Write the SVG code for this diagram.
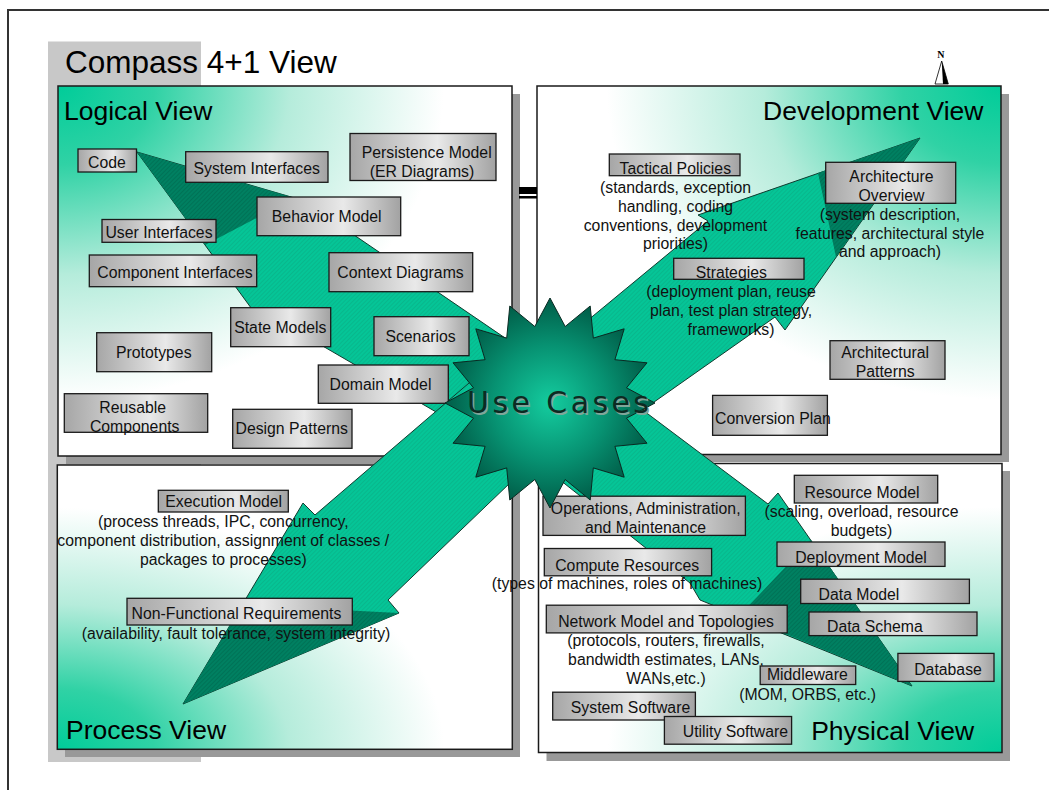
<svg xmlns="http://www.w3.org/2000/svg" width="1049" height="790" viewBox="0 0 1049 790">
<defs>
<style>
.t{font-family:"Liberation Sans",Arial,sans-serif;font-size:15.8px;fill:#111}
.c{text-anchor:middle}
.h{font-size:26.5px;fill:#000}
.box{fill:url(#boxg);stroke:#1a1a1a;stroke-width:1.3}
.quad{stroke:#1a1a1a;stroke-width:1.5}
.shadow{fill:#999}
.arrow{fill:url(#hatchL);stroke:#103a2e;stroke-width:1}
.dark{fill:url(#hatchD)}
</style>
<linearGradient id="boxg" x1="0" y1="0" x2="1" y2="0">
<stop offset="0" stop-color="#a6a6a6"/>
<stop offset="0.6" stop-color="#e9e9e9"/>
<stop offset="1" stop-color="#a2a2a2"/>
</linearGradient>
<radialGradient id="gLog" cx="0" cy="0" r="0.85" fx="0" fy="0">
<stop offset="0" stop-color="#00cc99"/>
<stop offset="0.25" stop-color="#30d2a5"/>
<stop offset="0.6" stop-color="#b5ecdb"/>
<stop offset="1" stop-color="#ffffff"/>
</radialGradient>
<radialGradient id="gDev" cx="1" cy="0" r="0.85" fx="1" fy="0">
<stop offset="0" stop-color="#00cc99"/>
<stop offset="0.25" stop-color="#30d2a5"/>
<stop offset="0.6" stop-color="#b5ecdb"/>
<stop offset="1" stop-color="#ffffff"/>
</radialGradient>
<radialGradient id="gPro" cx="0" cy="1" r="0.85" fx="0" fy="1">
<stop offset="0" stop-color="#00cc99"/>
<stop offset="0.25" stop-color="#30d2a5"/>
<stop offset="0.6" stop-color="#b5ecdb"/>
<stop offset="1" stop-color="#ffffff"/>
</radialGradient>
<radialGradient id="gPhy" cx="1" cy="1" r="0.85" fx="1" fy="1">
<stop offset="0" stop-color="#00cc99"/>
<stop offset="0.25" stop-color="#30d2a5"/>
<stop offset="0.6" stop-color="#b5ecdb"/>
<stop offset="1" stop-color="#ffffff"/>
</radialGradient>
<radialGradient id="gStar" cx="550" cy="403" r="105" gradientUnits="userSpaceOnUse">
<stop offset="0" stop-color="#14cc9f"/>
<stop offset="0.55" stop-color="#079272"/>
<stop offset="1" stop-color="#005c47"/>
</radialGradient>
<pattern id="hatchL" width="3" height="3" patternUnits="userSpaceOnUse" patternTransform="rotate(45)">
<rect width="3" height="3" fill="#05c597"/>
<rect width="1" height="3" fill="#0aae86" opacity="0.6"/>
</pattern>
<pattern id="hatchD" width="3" height="3" patternUnits="userSpaceOnUse" patternTransform="rotate(45)">
<rect width="3" height="3" fill="#008061"/>
<rect width="1" height="3" fill="#006c52" opacity="0.7"/>
</pattern>
</defs>

<rect x="0" y="0" width="1049" height="790" fill="#ffffff"/>
<path d="M1049,10 H8 V790" fill="none" stroke="#333" stroke-width="2"/>
<rect x="48" y="41.5" width="153" height="720.5" fill="#c8c8c8"/>

<g id="compass">
<text x="940.8" y="57.5" font-family="Liberation Serif,serif" font-weight="bold" font-size="10" text-anchor="middle" fill="#000">N</text>
<polygon points="941.7,61 935,84 948.3,84" fill="#fff" stroke="#000" stroke-width="0.8"/>
<polygon points="941.7,61 943,84 948.3,84" fill="#000"/>
</g>

<g id="logical-view">
<rect class="shadow" x="66" y="94" width="454" height="370"/>
<rect class="quad" x="58" y="86" width="454" height="370" fill="url(#gLog)"/>
<text class="t h" x="64" y="120">Logical View</text>
</g>
<g id="development-view">
<rect class="shadow" x="545" y="94" width="464" height="368"/>
<rect class="quad" x="537" y="86" width="464" height="368.5" fill="url(#gDev)"/>
<text class="t h" x="983.5" y="120" text-anchor="end">Development View</text>
</g>
<g id="process-view">
<rect class="shadow" x="65" y="473" width="455" height="284"/>
<rect class="quad" x="57.3" y="465" width="455" height="284.3" fill="url(#gPro)"/>
<text class="t h" x="66" y="739.3">Process View</text>
</g>
<g id="physical-view">
<rect class="shadow" x="546.5" y="471" width="463.5" height="290"/>
<rect class="quad" x="538.5" y="463.5" width="463.5" height="289" fill="url(#gPhy)"/>
<text class="t h" x="811.2" y="740">Physical View</text>
</g>

<g id="equals">
<rect x="519" y="187" width="18" height="7" fill="#000"/>
<rect x="519" y="196" width="18" height="2.5" fill="#000"/>
</g>

<g id="title">
<text class="t" x="65" y="72.6" style="font-size:31.5px;fill:#000">Compass 4+1 View</text>
</g>

<g id="connectors">
<polygon class="arrow" points="137,152 322,206 335,222 530,355 510,455 290,327 265,327"/>
<polygon class="dark" points="137,152 295,198 205,245"/>
<polygon class="arrow" points="920,138 698,215 708,221 570,335 610,433 775,317 785,330"/>
<polygon class="dark" points="920,138 818,173 836,257"/>
<polygon class="arrow" points="183,704 303,503 315,515 490,365 560,435 388,600 399,613"/>
<polygon class="dark" points="183,704 242,605 399,613"/>
<polygon class="arrow" points="912,686 778,493 768,504 600,378 560,480 690,583 700,600"/>
<polygon class="dark" points="912,686 811,540 740,615"/>
</g>

<g id="code"><rect class="box" x="78" y="149" width="58.5" height="23"/><text class="t c" x="107" y="167.5">Code</text></g>
<g id="system-interfaces"><rect class="box" x="185.7" y="151.7" width="142.3" height="30.6"/><text class="t c" x="256.7" y="174">System Interfaces</text></g>
<g id="persistence-model"><rect class="box" x="350" y="133.5" width="146" height="47"/><text class="t c" x="426.7" y="158.3">Persistence Model</text><text class="t c" x="422" y="176.7">(ER Diagrams)</text></g>
<g id="behavior-model"><rect class="box" x="257" y="197" width="143.7" height="38.7"/><text class="t c" x="326.7" y="221.7">Behavior Model</text></g>
<g id="user-interfaces"><rect class="box" x="102" y="219.5" width="114" height="22.8"/><text class="t c" x="159" y="238.3">User Interfaces</text></g>
<g id="component-interfaces"><rect class="box" x="89.3" y="255" width="167.4" height="31.7"/><text class="t c" x="175" y="278.3">Component Interfaces</text></g>
<g id="context-diagrams"><rect class="box" x="329" y="252.7" width="143.7" height="39"/><text class="t c" x="400.5" y="278.3">Context Diagrams</text></g>
<g id="state-models"><rect class="box" x="230.7" y="307.7" width="100" height="39"/><text class="t c" x="280.3" y="332.7">State Models</text></g>
<g id="scenarios"><rect class="box" x="374" y="316.7" width="95" height="39"/><text class="t c" x="420.5" y="341.7">Scenarios</text></g>
<g id="prototypes"><rect class="box" x="96.7" y="332.7" width="115" height="39"/><text class="t c" x="153.8" y="358.3">Prototypes</text></g>
<g id="domain-model"><rect class="box" x="318.3" y="365" width="130" height="38.3"/><text class="t c" x="380.5" y="390">Domain Model</text></g>
<g id="reusable-components"><rect class="box" x="64.3" y="393.7" width="143.4" height="38.6"/><text class="t c" x="132.7" y="412.7">Reusable</text><text class="t c" x="134.7" y="431.7">Components</text></g>
<g id="design-patterns"><rect class="box" x="232.7" y="409.3" width="119.3" height="39"/><text class="t c" x="291.7" y="434">Design Patterns</text></g>

<g id="tactical-policies"><rect class="box" x="609.3" y="154" width="130.7" height="21.7"/><text class="t c" x="675.3" y="174">Tactical Policies</text>
<text class="t c" x="675.5" y="192.7">(standards, exception</text><text class="t c" x="675.5" y="211.7">handling, coding</text><text class="t c" x="675.5" y="231">conventions, development</text><text class="t c" x="675.5" y="249.3">priorities)</text></g>
<g id="architecture-overview"><rect class="box" x="825.7" y="162.3" width="130" height="41"/><text class="t c" x="891.5" y="181.7">Architecture</text><text class="t c" x="891.5" y="200.7">Overview</text>
<text class="t c" x="890" y="220">(system description,</text><text class="t c" x="890" y="238.7">features, architectural style</text><text class="t c" x="890" y="257.3">and approach)</text></g>
<g id="strategies"><rect class="box" x="673.7" y="258.3" width="130.3" height="21"/><text class="t c" x="731.3" y="277.7">Strategies</text>
<text class="t c" x="731" y="296.7">(deployment plan, reuse</text><text class="t c" x="731" y="316">plan, test plan strategy,</text><text class="t c" x="731" y="335">frameworks)</text></g>
<g id="architectural-patterns"><rect class="box" x="830" y="340.7" width="115" height="38.6"/><text class="t c" x="885.2" y="358.3">Architectural</text><text class="t c" x="885.2" y="377.3">Patterns</text></g>
<g id="conversion-plan"><rect class="box" x="712.6" y="395.4" width="114.8" height="39.9"/><text class="t" x="715" y="424">Conversion Plan</text></g>

<g id="execution-model"><rect class="box" x="158.3" y="490.3" width="130" height="21.7"/><text class="t c" x="223.7" y="507.3">Execution Model</text>
<text class="t c" x="223.3" y="526.7">(process threads, IPC, concurrency,</text><text class="t c" x="223.3" y="546">component distribution, assignment of classes /</text><text class="t c" x="223.3" y="565">packages to processes)</text></g>
<g id="non-functional-requirements"><rect class="box" x="127" y="598.3" width="225.3" height="26.7"/><text class="t c" x="236.5" y="619.3">Non-Functional Requirements</text>
<text class="t c" x="236" y="639">(availability, fault tolerance, system integrity)</text></g>

<g id="resource-model"><rect class="box" x="794.3" y="475.3" width="143.4" height="27.7"/><text class="t c" x="862" y="498.2">Resource Model</text>
<text class="t c" x="861.5" y="516.8">(scaling, overload, resource</text><text class="t c" x="861.5" y="536">budgets)</text></g>
<g id="operations"><rect class="box" x="543" y="496.2" width="202.4" height="39.2"/><text class="t c" x="645.7" y="514">Operations, Administration,</text><text class="t c" x="645.5" y="532.7">and Maintenance</text></g>
<g id="compute-resources"><rect class="box" x="544.3" y="548.5" width="167.3" height="27.3"/><text class="t c" x="627.2" y="570.8">Compute Resources</text>
<text class="t c" x="627" y="589.3">(types of machines, roles of machines)</text></g>
<g id="deployment-model"><rect class="box" x="777" y="542" width="168" height="24.4"/><text class="t c" x="861" y="563">Deployment Model</text></g>
<g id="data-model"><rect class="box" x="800.7" y="579.2" width="168.7" height="24.3"/><text class="t" x="818.6" y="599.5">Data Model</text></g>
<g id="data-schema"><rect class="box" x="809" y="612" width="168" height="23.6"/><text class="t" x="827" y="632.2">Data Schema</text></g>
<g id="network-model"><rect class="box" x="546.3" y="605.2" width="240.9" height="27.7"/><text class="t c" x="666" y="627">Network Model and Topologies</text>
<text class="t c" x="666" y="645.7">(protocols, routers, firewalls,</text><text class="t c" x="666" y="665">bandwidth estimates, LANs,</text><text class="t c" x="666" y="683.8">WANs,etc.)</text></g>
<g id="database"><rect class="box" x="897.9" y="653.4" width="96.1" height="28"/><text class="t c" x="948" y="675.4">Database</text></g>
<g id="middleware"><rect class="box" x="760.2" y="666" width="95.5" height="18.5"/><text class="t c" x="807.3" y="680.4">Middleware</text>
<text class="t c" x="807.6" y="700.3">(MOM, ORBS, etc.)</text></g>
<g id="system-software"><rect class="box" x="552.7" y="692.2" width="142.7" height="27.8"/><text class="t c" x="630.5" y="713.2">System Software</text></g>
<g id="utility-software"><rect class="box" x="664.4" y="716.5" width="127.2" height="27.7"/><text class="t c" x="735.4" y="737.4">Utility Software</text></g>

<g id="use-cases">
<polygon points="550,298 565.2,326.5 590.2,306 593.3,338.1 624.2,328.8 614.9,359.7 647,362.8 626.5,387.8 655,403 626.5,418.2 647,443.2 614.9,446.3 624.2,477.2 593.3,467.9 590.2,500 565.2,479.5 550,508 534.8,479.5 509.8,500 506.7,467.9 475.8,477.2 485.1,446.3 453,443.2 473.5,418.2 445,403 473.5,387.8 453,362.8 485.1,359.7 475.8,328.8 506.7,338.1 509.8,306 534.8,326.5" fill="url(#gStar)" stroke="#0a2a22" stroke-width="1"/>
<text x="468.5" y="414.5" font-family="DejaVu Sans,Verdana,sans-serif" font-size="30" textLength="182" lengthAdjust="spacing" fill="#7fa69a">Use Cases</text>
<text x="467" y="413" font-family="DejaVu Sans,Verdana,sans-serif" font-size="30" textLength="182" lengthAdjust="spacing" fill="#0d2a22">Use Cases</text>
</g>
</svg>
